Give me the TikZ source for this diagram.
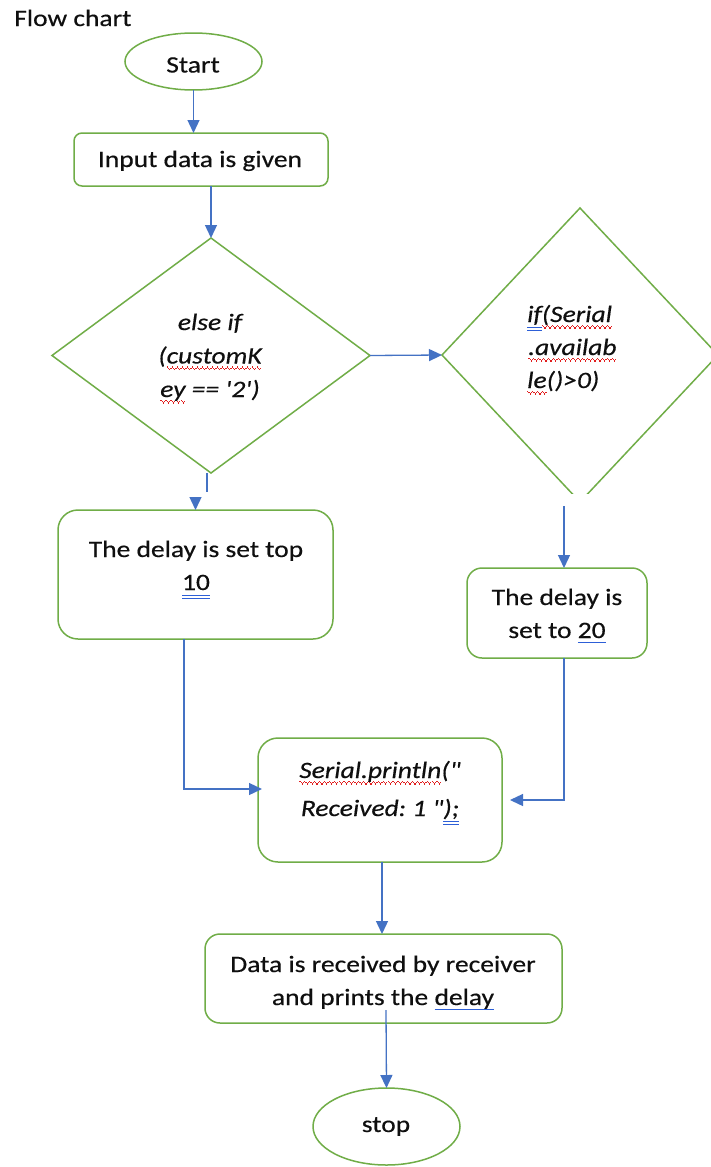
\documentclass[tikz,border=0pt]{standalone}
\usepackage{fontspec}
\newfontfamily\carl{Carlito}[FakeStretch=1.17,FakeBold=0.4]
\usetikzlibrary{shapes.geometric,arrows.meta}
\definecolor{flgreen}{RGB}{112,173,71}
\definecolor{flblue}{RGB}{68,114,196}
\definecolor{sqred}{RGB}{225,30,30}
\definecolor{ulblue}{RGB}{45,95,215}
\definecolor{txtcol}{RGB}{15,15,15}
\newsavebox\ulbox
\newcommand\wavepiece{\rule[-4.2pt]{1.2pt}{1.3pt}\rule[-5.4pt]{1.2pt}{1.3pt}\rule[-6.6pt]{1.2pt}{1.3pt}\rule[-5.4pt]{1.2pt}{1.3pt}}
\newcommand\rwave[1]{\sbox\ulbox{#1}\rlap{\textcolor{sqred}{\hbox to\wd\ulbox{\xleaders\hbox{\wavepiece}\hfill}}}\usebox\ulbox}
\newcommand\bdbl[1]{\sbox\ulbox{#1}\rlap{\textcolor{ulblue}{\rule[-6pt]{\wd\ulbox}{1pt}}}\rlap{\textcolor{ulblue}{\rule[-9pt]{\wd\ulbox}{1pt}}}\usebox\ulbox}
\newcommand\bsgl[1]{\sbox\ulbox{#1}\rlap{\textcolor{ulblue}{\rule[-4.5pt]{\wd\ulbox}{1pt}}}\usebox\ulbox}
\begin{document}
\frenchspacing
\begin{tikzpicture}[x=1pt,y=-1pt,
  shp/.style={draw=flgreen, line width=1.5pt, inner sep=0pt, outer sep=0pt},
  rbox/.style={shp, rectangle, rounded corners=#1},
  rbox/.default=16pt,
  arr/.style={draw=flblue, line width=1.3pt, -{Triangle[length=13pt,width=12pt]}},
  ln/.style={draw=flblue, line width=1.3pt},
  txt/.style={anchor=base, inner sep=0pt, text=txtcol, font=\carl\fontsize{23.5}{28}\selectfont\frenchspacing},
  itxt/.style={txt, font=\carl\fontsize{23.5}{28}\selectfont\itshape\frenchspacing}]
\fill[white] (0,0) rectangle (710,1167);
\useasboundingbox (0,0) rectangle (710,1167);

\node[txt, anchor=base west] (title) at (14,26) {Flow chart};

\node[shp, ellipse, minimum width=137pt, minimum height=57pt] (start) at (193.5,61.5) {};
\node[txt] (startt) at (193,72.5) {Start};

\node[rbox=8pt, minimum width=254pt, minimum height=53pt] (input) at (201,159.5) {};
\node[txt] (inputt) at (200,167) {Input data is given};

\node[shp, diamond, minimum width=318pt, minimum height=235pt] (d1) at (211,355.5) {};
\node[itxt] (d1a) at (210,330) {else if};
\node[itxt] (d1b) at (210,363.5) {(\rwave{customK}};
\node[itxt] (d1c) at (210,397) {\rwave{ey} == '2')};

\begin{scope}
  \clip (400,190) rectangle (730,493);
  \node[shp, diamond, minimum width=276pt, minimum height=294pt] (d2) at (580,355) {};
\end{scope}
\node[itxt, anchor=base west] (d2a) at (527,322) {\bdbl{if}\rwave{(Serial}};
\node[itxt, anchor=base west] (d2b) at (528,355) {\rwave{.availab}};
\node[itxt, anchor=base west] (d2c) at (527,388) {\rwave{le}()>0)};

\node[rbox=20pt, minimum width=275pt, minimum height=129pt] (b1) at (195.5,574.5) {};
\node[txt] (b1a) at (196,557) {The delay is set top};
\node[txt] (b1b) at (196,590) {\bdbl{10}};

\node[rbox=15pt, minimum width=180pt, minimum height=90pt] (b2) at (557,613) {};
\node[txt] (b2a) at (557,605) {The delay is};
\node[txt] (b2b) at (557,638) {set to \bsgl{20}};

\node[rbox=20pt, minimum width=244pt, minimum height=124pt] (b3) at (380,800) {};
\node[itxt] (b3a) at (380,778) {\rwave{Serial.println}("};
\node[itxt] (b3b) at (380,816) {Received: 1 "\bdbl{);}};

\node[rbox=15pt, minimum width=357pt, minimum height=89pt] (b4) at (383.5,978.5) {};
\node[txt] (b4a) at (383,972) {Data is received by receiver};
\node[txt] (b4b) at (383,1005) {and prints the \bsgl{delay}};

\node[shp, ellipse, minimum width=147pt, minimum height=77pt] (stop) at (386.5,1126.5) {};
\node[txt] (stopt) at (386,1132) {stop};

% connectors
\draw[arr] (start.south) -- (start.south |- input.north);
\draw[arr] (input.south -| d1.north) -- (d1.north);
\draw[arr] (d1.east) -- (d2.west);
\draw[ln] ([xshift=-4pt]d1.south) -- ++(0,19);
\draw[arr] ([yshift=13pt]b1.north) -- (b1.north);
\coordinate (d2cut) at (564,506);
\draw[arr] (d2cut) -- (d2cut |- b2.north);
\draw[arr] ([xshift=7pt]b2.south) |- ([xshift=8pt]b3.east);
\draw[arr] ([xshift=-11.5pt]b1.south) |- ([xshift=4pt,yshift=11pt]b3.west);
\draw[arr] ([xshift=2pt]b3.south) -- ([xshift=-1.5pt]b4.north);
\draw[arr] ([xshift=2.5pt,yshift=13pt]b4.south) -- (stop.north);
\end{tikzpicture}
\end{document}
